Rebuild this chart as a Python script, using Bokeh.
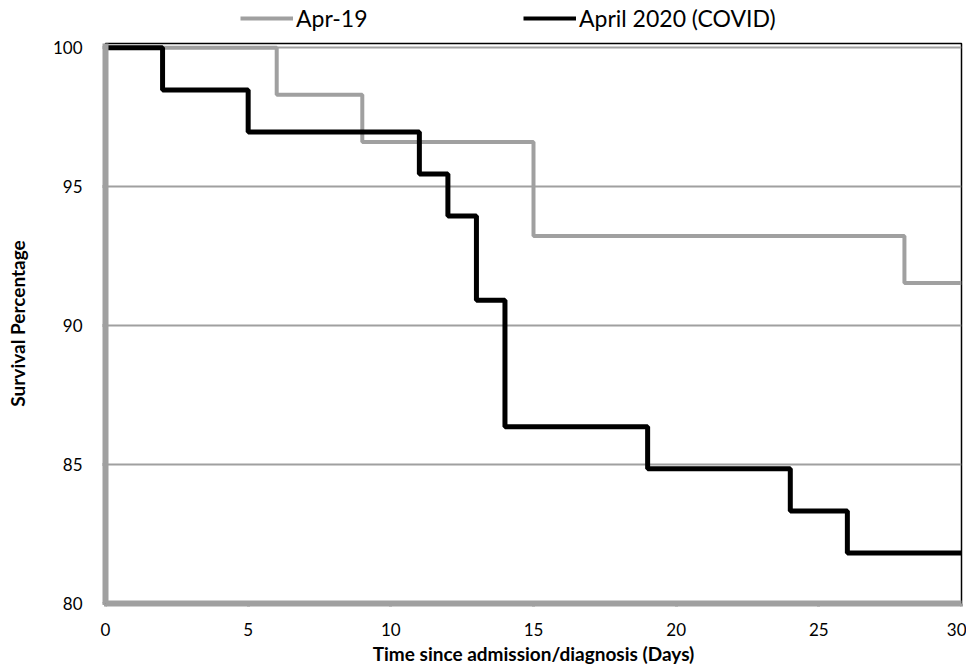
from bokeh.plotting import figure
from bokeh.models import Range1d, Legend, LegendItem, FixedTicker
from bokeh.layouts import column
from bokeh.embed import file_html
from bokeh.resources import INLINE

apr19_days = [0, 6, 9, 15, 28, 30]
apr19_surv = [100, 98.31, 96.61, 93.22, 91.53, 91.53]
covid_days = [0, 2, 5, 11, 12, 13, 14, 19, 24, 26, 30]
covid_surv = [100, 98.48, 96.97, 95.45, 93.94, 90.91, 86.36, 84.85, 83.33, 81.82, 81.82]
x_ticks = [0, 5, 10, 15, 20, 25, 30]
y_ticks = [80, 85, 90, 95, 100]
labels = ["Apr-19", "April 2020 (COVID)"]

FONT = "Lato"
GRAY = "#a0a0a0"

# main chart
p = figure(frame_width=856, frame_height=560, output_backend="svg", toolbar_location=None,
           x_range=Range1d(0, 30), y_range=Range1d(80, 100.15),
           min_border_left=105, min_border_right=5, min_border_top=10, min_border_bottom=61)

p.outline_line_color = "black"
p.outline_line_width = 1.5

p.xgrid.visible = False
p.ygrid.ticker = FixedTicker(ticks=y_ticks)
p.ygrid.grid_line_color = GRAY
p.ygrid.grid_line_width = 2

for ax in (p.xaxis[0], p.yaxis[0]):
    ax.axis_line_color = GRAY
    ax.axis_line_width = 6
    ax.major_tick_line_color = GRAY
    ax.major_tick_line_width = 3
    ax.major_tick_out = 3
    ax.major_tick_in = 0
    ax.minor_tick_line_color = None
    ax.major_label_text_font = FONT
    ax.major_label_text_font_size = "17px"
    ax.major_label_text_color = "black"
    ax.axis_label_text_font = FONT
    ax.axis_label_text_font_size = "19px"
    ax.axis_label_text_font_style = "bold"
    ax.axis_label_text_color = "black"

p.xaxis.ticker = FixedTicker(ticks=x_ticks)
p.yaxis.ticker = FixedTicker(ticks=y_ticks)
p.xaxis.axis_label = "Time since admission/diagnosis (Days)"
p.yaxis.axis_label = "Survival Percentage"
p.xaxis.major_label_standoff = 16
p.yaxis.major_label_standoff = 20
p.xaxis.axis_label_standoff = 3
p.yaxis.axis_label_standoff = 21

p.step(apr19_days, apr19_surv, mode="after", line_color=GRAY, line_width=4)
p.step(covid_days, covid_surv, mode="after", line_color="black", line_width=5)

# legend strip above the chart
lg = figure(width=966, height=33, output_backend="svg", toolbar_location=None,
            x_range=Range1d(0, 30), y_range=Range1d(0, 1),
            x_axis_type=None, y_axis_type=None,
            min_border_left=105, min_border_right=5, min_border_top=0, min_border_bottom=0)
lg.outline_line_color = None
lg.xgrid.visible = False
lg.ygrid.visible = False
l1 = lg.step(apr19_days, apr19_surv, mode="after", line_color=GRAY, line_width=4)
l2 = lg.step(covid_days, covid_surv, mode="after", line_color="black", line_width=4)

legend = Legend(items=[LegendItem(label=labels[0], renderers=[l1]),
                       LegendItem(label=labels[1], renderers=[l2])],
                orientation="horizontal", location=(135, 1))
legend.border_line_color = None
legend.background_fill_alpha = 0
legend.margin = 0
legend.padding = 0
legend.glyph_width = 53
legend.glyph_height = 22
legend.label_standoff = 3
legend.label_width = 219
legend.spacing = 8
legend.label_text_font = FONT
legend.label_text_font_size = "23px"
legend.label_text_color = "black"
lg.add_layout(legend, "center")

layout = column(lg, p, spacing=0)
open("out.html", "w").write(file_html(layout, INLINE))
